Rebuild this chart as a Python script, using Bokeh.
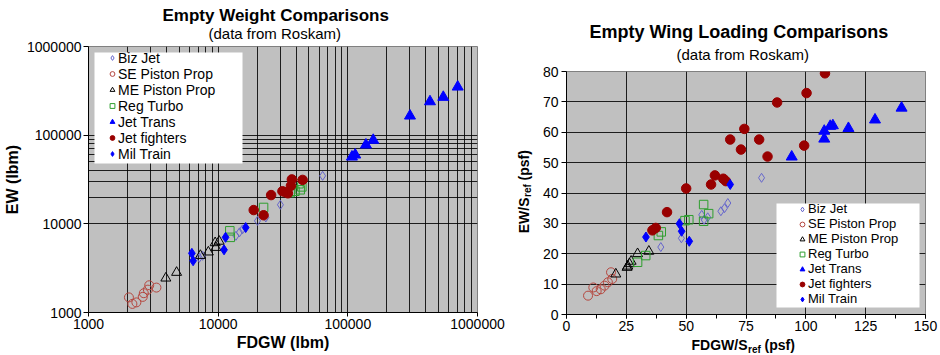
import math
from bokeh.plotting import figure
from bokeh.models import (FixedTicker, Legend, LegendItem, Label, PrintfTickFormatter,
                          SingleIntervalTicker, Range1d, Title, BoxAnnotation)
from bokeh.layouts import row, column
from bokeh.embed import file_html
from bokeh.resources import INLINE

FONT = "Liberation Sans"

# ---------------- data: Empty Weight (FDGW lbm vs EW lbm) ----------------
series_names = ["Biz Jet", "SE Piston Prop", "ME Piston Prop", "Reg Turbo",
                "Jet Trans", "Jet fighters", "Mil Train"]

biz_fdgw = [63900, 30200, 23300, 20100, 15400, 14600, 13700, 7580, 7160]
biz_ew = [34800, 16400, 11800, 10800, 8670, 8020, 7320, 4360, 4140]
se_fdgw = [2050, 2180, 2340, 2620, 2670, 2870, 2940, 3340]
se_ew = [1480, 1250, 1300, 1500, 1650, 1810, 2030, 1910]
me_fdgw = [3950, 4780, 7290, 8400, 9480, 10180, 9600]
me_ew = [2440, 2830, 4390, 4800, 6110, 6350, 5410]
reg_fdgw = [12300, 12400, 22400, 35900, 39100, 42900, 44200, 42000]
reg_ew = [8340, 7040, 15300, 22500, 23300, 24200, 26100, 28300]
jt_fdgw = [107600, 114000, 137900, 157000, 301500, 430000, 544700, 703600]
jt_ew = [56900, 60000, 77700, 87800, 165100, 239200, 268200, 350400]
jf_fdgw = [18800, 22400, 25600, 31300, 33000, 34500, 36400, 37000, 44800]
jf_ew = [14300, 12500, 21100, 23300, 22700, 22100, 26800, 31700, 31300]
mt_fdgw = [6270, 6410, 11400, 11100, 16300]
mt_ew = [4650, 3830, 7040, 5090, 9080]

# ---------------- data: Empty Wing Loading (psf) ----------------
biz_wl_x = [81.5, 67.4, 66.0, 64.5, 59.0, 56.5, 57.5, 48.0, 39.4]
biz_wl_y = [45.0, 36.7, 35.0, 34.0, 32.0, 32.8, 31.2, 25.1, 22.2]
se_wl_x = [9.0, 11.2, 12.6, 14.3, 15.9, 17.3, 19.1, 18.6]
se_wl_y = [6.2, 8.9, 7.7, 8.3, 9.5, 10.6, 11.7, 13.9]
me_wl_x = [20.6, 25.3, 25.6, 26.3, 27.0, 29.7, 34.4]
me_wl_y = [13.3, 15.5, 15.9, 16.7, 17.5, 20.0, 20.8]
reg_wl_x = [57.3, 59.4, 57.3, 51.1, 49.5, 39.6, 38.4, 33.1, 29.7]
reg_wl_y = [36.2, 33.2, 30.7, 31.2, 30.9, 27.2, 26.0, 19.4, 17.2]
jt_wl_x = [140.0, 128.9, 117.8, 110.2, 111.3, 107.7, 107.7, 94.1]
jt_wl_y = [68.0, 64.1, 61.3, 62.0, 62.2, 60.4, 57.8, 51.9]
jf_wl_x = [108.0, 100.3, 88.0, 74.3, 68.4, 80.5, 72.9, 84.0, 99.3, 62.0, 65.5,
           66.6, 60.4, 50.0, 42.0, 37.3, 35.9]
jf_wl_y = [79.4, 72.9, 69.8, 61.1, 57.6, 57.6, 54.3, 52.0, 55.6, 45.8, 44.7,
           43.9, 42.8, 41.5, 33.7, 28.5, 27.7]
mt_wl_x = [33.2, 47.2, 48.1, 51.3, 68.4]
mt_wl_y = [25.5, 29.9, 27.4, 24.1, 42.8]

# tick labels / intervals
log_ticks = [1000, 10000, 100000, 1000000]
wl_x_interval = 25
wl_y_interval = 10

# marker styles per series
styles = {
    "Biz Jet": dict(marker="diamond", size=9, fill_color=None,
                    line_color="#6666CC", line_width=1),
    "SE Piston Prop": dict(marker="circle", size=9, fill_color=None,
                           line_color="#B5473F", line_width=1),
    "ME Piston Prop": dict(marker="triangle", size=10, fill_color=None,
                           line_color="#000000", line_width=1),
    "Reg Turbo": dict(marker="square", size=8.5, fill_color=None,
                      line_color="#2E9E2E", line_width=1),
    "Jet Trans": dict(marker="triangle", size=11, fill_color="#0000FF",
                      line_color="#0000FF", line_width=1),
    "Jet fighters": dict(marker="circle", size=9.5, fill_color="#990000",
                         line_color="#990000", line_width=1),
    "Mil Train": dict(marker="diamond", size=10, fill_color="#0000FF",
                      line_color="#0000FF", line_width=1),
}


def add_series(p, xs_list, ys_list):
    items = []
    for name, xs, ys in zip(series_names, xs_list, ys_list):
        r = p.scatter(x=xs, y=ys, **styles[name])
        items.append(LegendItem(label=name, renderers=[r]))
    return items


def add_legend(p, items, box, location, glyph_h, font_size):
    # white legend panel (screen units relative to the frame), then the entries on it
    left, right, bottom, top = box
    p.add_layout(BoxAnnotation(left=left, right=right, bottom=bottom, top=top,
                               left_units="screen", right_units="screen",
                               bottom_units="screen", top_units="screen",
                               fill_color="white", fill_alpha=1.0, line_color=None))
    p.add_layout(Legend(items=items, location=location, padding=0, spacing=0,
                        glyph_width=12, glyph_height=glyph_h, label_height=glyph_h,
                        label_standoff=0, label_text_font=FONT,
                        label_text_font_size=font_size, label_text_color="black",
                        background_fill_alpha=0.0, border_line_color=None, margin=0))


def style_axes(p):
    for ax in p.axis:
        ax.axis_line_color = "black"
        ax.axis_line_width = 1
        ax.major_tick_line_color = "black"
        ax.major_tick_in = 0
        ax.major_tick_out = 4
        ax.minor_tick_line_color = None
        ax.major_label_text_font = FONT
        ax.major_label_text_font_size = "14px"
        ax.major_label_text_color = "black"
        ax.major_label_standoff = 2
        ax.axis_label_text_font = FONT
        ax.axis_label_text_font_size = "16px"
        ax.axis_label_text_font_style = "bold"
        ax.axis_label_text_color = "black"
    for g in p.grid:
        g.grid_line_color = "#000000"
        g.grid_line_alpha = 0.85
        g.grid_line_width = 1


def add_titles(p, main, main_size, main_offset, main_standoff,
               sub_offset, sub_standoff):
    p.add_layout(Title(text="(data from Roskam)", align="left", offset=sub_offset,
                       standoff=sub_standoff, text_font=FONT, text_font_size="15px",
                       text_font_style="normal", text_color="black"), "above")
    p.add_layout(Title(text=main, align="left", offset=main_offset,
                       standoff=main_standoff, text_font=FONT, text_font_size=main_size,
                       text_font_style="bold", text_color="black"), "above")


def text_fig(w, h):
    f = figure(width=w, height=h, x_range=Range1d(0, 1), y_range=Range1d(0, 1),
               output_backend="svg", toolbar_location=None, min_border=0,
               x_axis_location=None, y_axis_location=None, outline_line_color=None,
               background_fill_color="white", border_fill_color="white",
               frame_align=False)
    f.grid.visible = False
    return f


def lab(p, x, y, text, size, align="left", angle=0.0):
    p.add_layout(Label(x=x, y=y, x_units="screen", y_units="screen", text=text,
                       text_font=FONT, text_font_size=size, text_font_style="bold",
                       text_align=align, text_baseline="middle", angle=angle,
                       text_color="black"))


# ================= left figure =================
p1 = figure(width=505, height=355, x_axis_type="log", y_axis_type="log",
            x_range=Range1d(1000, 1000000), y_range=Range1d(1000, 1000000),
            output_backend="svg", toolbar_location=None,
            min_border_left=88, min_border_right=28, min_border_top=46, min_border_bottom=43,
            background_fill_color="#C0C0C0", border_fill_color="white",
            outline_line_color="#808080", frame_align=False)
p1.xaxis.ticker = FixedTicker(ticks=log_ticks)
p1.yaxis.ticker = FixedTicker(ticks=log_ticks)
p1.xaxis.formatter = PrintfTickFormatter(format="%d")
p1.yaxis.formatter = PrintfTickFormatter(format="%d")
p1.xgrid.ticker = FixedTicker(ticks=[k * 10 ** n for n in (3, 4, 5) for k in range(1, 10)] + [10 ** 6])
p1.ygrid.ticker = FixedTicker(ticks=log_ticks + [k * 10 ** 4 for k in range(2, 10)])
style_axes(p1)
p1.yaxis.major_tick_out = 5
p1.xaxis.axis_label = "FDGW (lbm)"
p1.yaxis.axis_label = "EW (lbm)"
p1.xaxis.axis_label_standoff = 2
p1.yaxis.axis_label_standoff = 3

items1 = add_series(p1,
                    [biz_fdgw, se_fdgw, me_fdgw, reg_fdgw, jt_fdgw, jf_fdgw, mt_fdgw],
                    [biz_ew, se_ew, me_ew, reg_ew, jt_ew, jf_ew, mt_ew])
add_legend(p1, items1, box=(6, 154, 149, 260), location=(18, 150.5),
           glyph_h=15, font_size="14px")
add_titles(p1, "Empty Weight Comparisons", "17px", 74, -13, 120, 9)

# ================= right figure =================
p2 = figure(width=401, height=336,
            x_range=Range1d(0, 150), y_range=Range1d(0, 80),
            output_backend="svg", toolbar_location=None,
            min_border_left=24, min_border_right=15, min_border_top=71, min_border_bottom=22,
            background_fill_color="#C0C0C0", border_fill_color="white",
            outline_line_color="#808080", frame_align=False)
p2.xaxis.ticker = SingleIntervalTicker(interval=wl_x_interval, num_minor_ticks=2)
p2.yaxis.ticker = SingleIntervalTicker(interval=wl_y_interval, num_minor_ticks=0)
style_axes(p2)
p2.xaxis.minor_tick_line_color = "black"
p2.xaxis.minor_tick_in = 0
p2.xaxis.minor_tick_out = 4
p2.yaxis.major_tick_out = 5
p2.yaxis.major_label_standoff = 3

items2 = add_series(p2,
                    [biz_wl_x, se_wl_x, me_wl_x, reg_wl_x, jt_wl_x, jf_wl_x, mt_wl_x],
                    [biz_wl_y, se_wl_y, me_wl_y, reg_wl_y, jt_wl_y, jf_wl_y, mt_wl_y])
add_legend(p2, items2, box=(210, 353, 7, 111), location=(230, 8),
           glyph_h=14, font_size="13px")
add_titles(p2, "Empty Wing Loading Comparisons", "18px", 23, -14, 110, 18)

# axis titles with subscripts for the right chart (separate text strips)
ylab = text_fig(34, 355)
lab(ylab, 18, 158, "EW/S", "14px", align="right", angle=math.pi / 2)
lab(ylab, 22.4, 158.5, "ref", "10px", align="left", angle=math.pi / 2)
lab(ylab, 18, 175, "(psf)", "14px", align="left", angle=math.pi / 2)

xlab = text_fig(401, 19)
lab(xlab, 208, 10.5, "FDGW/S", "14px", align="right")
lab(xlab, 208.5, 6, "ref", "10px", align="left")
lab(xlab, 225, 10.5, "(psf)", "14px", align="left")

layout = row(p1, ylab, column(p2, xlab))
open("out.html", "w").write(file_html(layout, INLINE))
